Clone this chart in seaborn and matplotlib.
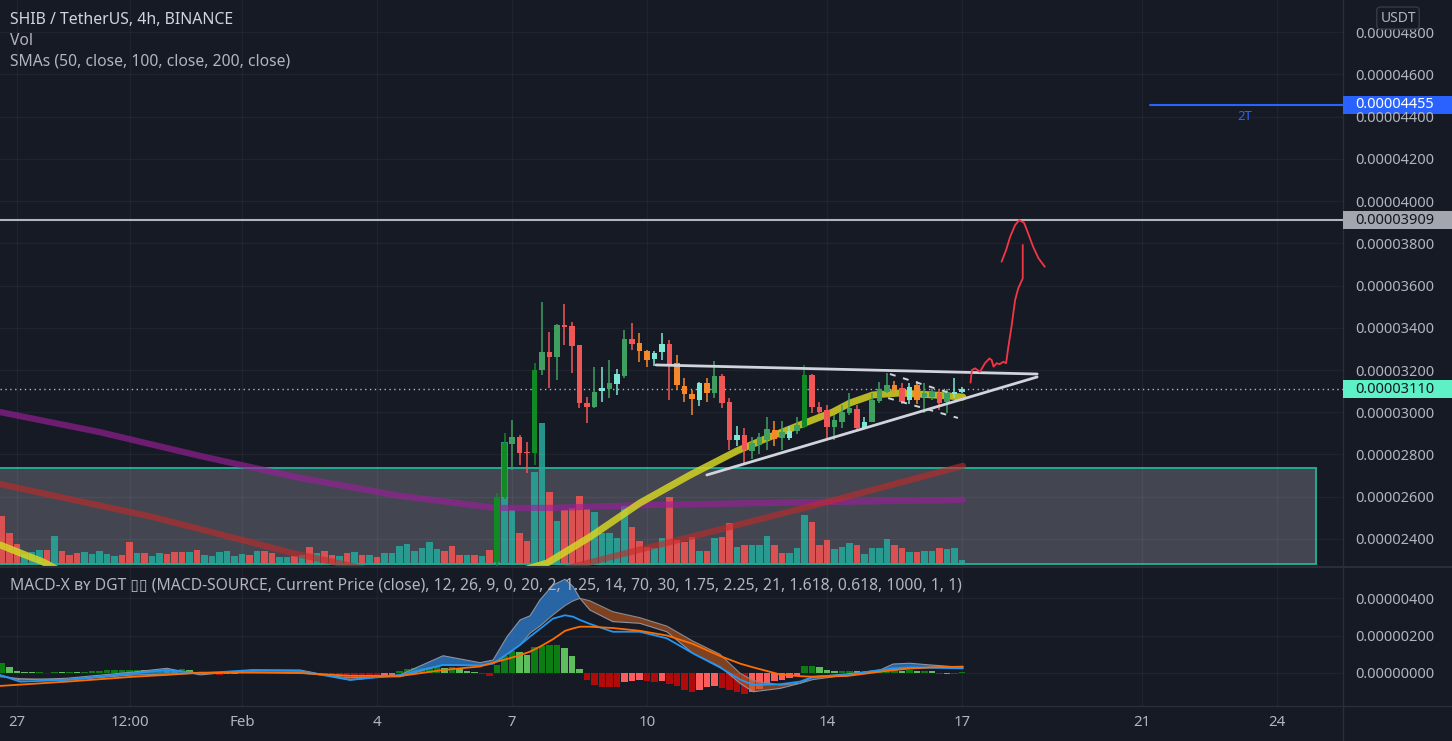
import numpy as np
import pandas as pd
import matplotlib
matplotlib.use('Agg')
import matplotlib.pyplot as plt
import matplotlib.transforms as mtransforms
from matplotlib.patches import Rectangle
from matplotlib.lines import Line2D
from matplotlib.ticker import FuncFormatter
import seaborn as sns

# ── Colours ────────────────────────────────────────────────────────
BG = '#161a25'
SEP = '#2a2e39'
TXT = '#b2b5be'

sns.set_theme(style='dark', rc={'axes.facecolor': BG, 'figure.facecolor': BG})
plt.rcParams['font.family'] = ['Noto Sans', 'DejaVu Sans']

# ── Data: prices in 1e-8 USDT, x in days since 27 Jan 00:00 ────────
T0 = pd.Timestamp('2022-01-27')
bar_times = pd.date_range('2022-01-26 16:00', periods=129, freq='4h')
bar_day = ((bar_times - T0) / pd.Timedelta('1D')).to_numpy()
candle_day = bar_day[66:]

tick_times = ['2022-01-27', '2022-01-29 12:00', '2022-02-01', '2022-02-04', '2022-02-07',
              '2022-02-10', '2022-02-14', '2022-02-17', '2022-02-21', '2022-02-24']
tick_labels = ['27', '12:00', 'Feb', '4', '7', '10', '14', '17', '21', '24']
tick_day = [(pd.Timestamp(t) - T0) / pd.Timedelta('1D') for t in tick_times]

c_open = [2290, 2600, 2850, 2883, 2810, 2807, 3200, 3285, 3260, 3415, 3408, 3318, 3044, 3025, 3100,
          3110, 3134, 3172, 3347, 3328, 3290, 3252, 3285, 3323, 3233, 3124, 3086, 3058, 3138, 3091,
          3172, 3049, 2869, 2892, 2817, 2845, 2869, 2916, 2878, 2878, 2911, 2930, 3176, 3025, 3011,
          2930, 2954, 2996, 3015, 2925, 2954, 3053, 3096, 3129, 3115, 3058, 3129, 3072, 3072, 3091,
          3049, 3086, 3096]
c_close = [2600, 2855, 2883, 2807, 2805, 3200, 3285, 3262, 3413, 3405, 3314, 3044, 3025, 3096, 3115,
           3138, 3181, 3347, 3323, 3290, 3247, 3280, 3323, 3228, 3129, 3086, 3063, 3138, 3091, 3172,
           3044, 2869, 2892, 2821, 2854, 2883, 2921, 2873, 2906, 2911, 2940, 3176, 3025, 3001, 2930,
           2963, 3001, 3020, 2925, 2954, 3058, 3110, 3129, 3105, 3049, 3120, 3058, 3091, 3096, 3044,
           3096, 3096, 3110]
c_high = [2620, 2902, 2963, 2890, 2860, 3233, 3522, 3380, 3420, 3512, 3427, 3320, 3072, 3214, 3214,
          3247, 3205, 3390, 3422, 3375, 3295, 3290, 3375, 3342, 3270, 3160, 3105, 3145, 3160, 3243,
          3180, 3067, 2935, 2925, 2883, 2900, 2977, 2958, 2959, 2935, 2977, 3224, 3180, 3050, 3034,
          2987, 3034, 3091, 3034, 2977, 3091, 3143, 3186, 3148, 3138, 3138, 3148, 3138, 3110, 3110,
          3110, 3162, 3120]
c_low = [2270, 2590, 2727, 2750, 2712, 2750, 3176, 3115, 3153, 3318, 3186, 3020, 2949, 3020, 3048,
         3067, 3082, 3160, 3295, 3238, 3214, 3218, 3247, 3058, 3105, 3050, 2987, 3030, 3050, 3067,
         3020, 2821, 2840, 2760, 2780, 2800, 2821, 2840, 2821, 2868, 2897, 2925, 2996, 2990, 2878,
         2869, 2925, 2987, 2920, 2920, 2954, 3044, 3091, 3091, 3039, 3039, 3039, 2996, 3060, 3011,
         2996, 3067, 3091]
# bar colouring of the indicator: G strong up, g up, t weak up, r down, o weak down
candle_kind = ['G', 'G', 'g', 'r', 'r', 'G', 'g', 'r', 'g', 'r', 'r', 'r', 'r', 'g', 't', 'g', 't',
               'g', 'r', 'o', 'o', 't', 't', 'r', 'o', 'o', 'o', 't', 'o', 'g', 'r', 'r', 't', 'r',
               'g', 'g', 'g', 'o', 'g', 't', 'g', 'G', 'r', 'r', 'r', 'g', 'g', 'g', 'r', 't', 'g',
               'g', 'g', 'o', 'r', 't', 'o', 'g', 'g', 'r', 'g', 't', 't']

volume = [48, 31, 20, 10, 12, 14, 14, 28, 13, 9, 11, 12, 10, 13, 10, 8, 9, 22, 11, 11,
          8, 11, 10, 12, 12, 12, 14, 9, 8, 12, 13, 8, 10, 9, 13, 13, 11, 7, 7, 8,
          9, 17, 11, 13, 9, 8, 11, 12, 9, 9, 7, 11, 11, 18, 20, 13, 16, 22, 15, 13,
          18, 9, 9, 9, 8, 14,
          67, 122, 54, 31, 23, 92, 141, 72, 43, 54, 56, 68, 55, 52, 31, 31, 26, 58, 37, 23,
          17, 16, 26, 67, 24, 22, 27, 13, 13, 26, 27, 41, 17, 19, 19, 19, 28, 19, 11, 11,
          16, 49, 42, 19, 24, 15, 17, 21, 19, 10, 16, 16, 25, 19, 16, 12, 12, 13, 13, 16,
          15, 16, 4]
vol_up = [0, 0, 0, 1, 1, 1, 0, 1, 0, 0, 0, 1, 1, 1, 1, 1, 0, 0, 1, 0,
          1, 1, 0, 0, 0, 1, 0, 1, 1, 1, 1, 1, 1, 0, 1, 0, 0, 1, 1, 0,
          1, 0, 1, 0, 0, 1, 0, 1, 0, 1, 0, 1, 1, 1, 1, 1, 1, 1, 1, 0,
          0, 0, 1, 0, 1, 0,
          1, 1, 1, 0, 0, 1, 1, 0, 1, 0, 0, 0, 0, 1, 1, 1, 1, 1, 0, 0,
          0, 1, 1, 0, 0, 0, 0, 1, 0, 1, 0, 0, 1, 0, 1, 1, 1, 0, 0, 1,
          1, 1, 0, 0, 0, 1, 1, 1, 0, 1, 1, 1, 1, 0, 0, 1, 0, 1, 1, 0,
          1, 1, 1]

sma50_day = [-0.38, 0.58, 1.84, 6.29, 9.62, 11.78, 12.73, 13.84, 14.96, 16.0, 16.67, 17.40,
             18.13, 18.51, 19.02, 19.62, 20.36, 21.02]
sma50 = [2372, 2291, 2150, 2180, 2150, 2286, 2409, 2570, 2703, 2817, 2878, 2940,
         3001, 3044, 3082, 3091, 3082, 3072]
sma100_day = [-0.38, 3.00, 6.13, 9.62, 12.07, 14.07, 14.96, 17.91, 21.02]
sma100 = [2660, 2505, 2333, 2170, 2253, 2362, 2409, 2570, 2746]
sma200_day = [-0.38, 1.84, 4.07, 6.29, 8.51, 10.62, 11.84, 14.07, 17.91, 21.02]
sma200 = [3001, 2906, 2793, 2689, 2604, 2547, 2547, 2561, 2575, 2585]

# drawings
zone_top, zone_bottom, zone_end = 2736, 2282, 28.87
tri_upper_day, tri_upper = [14.20, 22.67], [3224, 3181]
tri_lower_day, tri_lower = [15.33, 22.67], [2703, 3167]
flag_upper_day, flag_upper = [19.40, 20.73], [3181, 3091]
flag_lower_day, flag_lower = [19.36, 20.91], [3067, 2973]
path_rise_day = [21.19, 21.22, 21.29, 21.40, 21.51, 21.61, 21.66, 21.70, 21.77, 21.84, 21.92,
                 21.98, 22.03, 22.10, 22.18, 22.25, 22.35, 22.35]
path_rise = [3140, 3200, 3208, 3192, 3232, 3255, 3247, 3216, 3232, 3228, 3239,
             3232, 3310, 3405, 3531, 3587, 3634, 3792]
path_top_day = [21.88, 21.98, 22.07, 22.18, 22.27, 22.38, 22.47, 22.58, 22.70, 22.84]
path_top = [3713, 3768, 3831, 3886, 3910, 3897, 3847, 3784, 3729, 3689]
resistance = 3909
target, target_start = 4455, 25.18
last_price = 3110

# MACD-X (1e-8 units)
macd_day = [-0.38, 0.07, 1.11, 2.58, 3.33, 4.07, 5.24, 6.29, 7.40, 8.51, 9.47, 10.29, 10.58,
            10.89, 11.18, 11.40, 11.62, 11.91, 12.18, 12.36, 12.51, 12.73, 13.24, 13.84, 14.44,
            15.02, 15.62, 16.07, 16.36, 16.96, 17.40, 17.69, 18.44, 19.18, 19.47, 19.84, 20.29, 21.02]
band_a = [-11, -37, -28, 5, 25, -10, 16, 16, -37, -10, 92, 55, 69, 194, 283, 305, 389, 469, 500,
          460, 398, 336, 274, 265, 220, 105, 34, -55, -100, -82, -55, -20, -5, 16, 48, 52, 43, 30]
band_b = [-20, -30, -37, -11, -6, -2, 5, 0, -25, -20, 43, 40, 52, 100, 150, 212, 250, 310, 360,
          385, 398, 385, 327, 295, 250, 170, 100, -2, -40, -64, -55, -35, -11, 10, 20, 25, 30, 34]
macd_line = [-11, -46, -37, -2, 16, -2, 16, 11, -37, -11, 43, 40, 50, 100, 150, 194, 235, 290, 308,
             300, 283, 262, 220, 220, 185, 105, 30, -35, -64, -60, -46, -20, -11, 16, 25, 30, 28, 25]
signal_line = [-69, -62, -46, -20, -10, 2, 2, 0, -15, -16, 16, 35, 55, 75, 95, 114, 140, 180, 225,
               238, 247, 247, 240, 225, 200, 155, 91, 50, 30, -8, -17, -20, -16, 7, 15, 24, 30, 34]
macd_hist = [53, 32, 9, 4, 3, 3, 2, 4, 3, 6, 3,
             8, 11, 11, 14, 14, 16, 16, 16, 14, 16, 16, 14, 11, 21, 16,
             5, -3, -5, -8, -5, -3, 2, 3, 5, 5, 4, 3, 3, 2, 2,
             2, 1, -3, -5,
             -16, -27, -27, -27, -27, -27, -21, -11,
             11, 21, 27, 27, 32, 32, 27, 32, 21, 11, 5,
             -5, -16,
             44, 92, 119, 110, 98, 137, 146, 151, 151, 133, 92, 23,
             -36, -62, -75, -75, -75, -48, -41, -36, -41, -50, -44, -57, -71, -89, -103,
             -92, -75, -71, -80, -92, -103, -110, -103, -85, -62, -44, -36, -27, -14,
             36, 36, 32, 18, 12, 12, 12, 9, 4, 4, 9, 12, 18, 12, 18, 12, 12, 9, -5, -4, -4, 4]

# ── Layout (pixel geometry of the screenshot) ─────────────────────
W, H = 1452, 741
PW = 1343 / W
fig = plt.figure(figsize=(W / 100, H / 100), dpi=100)
fig.patch.set_facecolor(BG)
ax = fig.add_axes([0, 1 - 566 / H, PW, 566 / H])
axm = fig.add_axes([0, 1 - 706 / H, PW, 138 / H])
axv = ax.twinx()
axv.set_zorder(1)
ax.set_zorder(2)
ax.patch.set_visible(False)

XLIM = (-0.378, 29.467)
ax.set_xlim(*XLIM)
ax.set_ylim(2272, 4952)
axv.set_ylim(-2, 564)
axm.set_xlim(*XLIM)
axm.set_ylim(-176, 560)

price_fmt = FuncFormatter(lambda v, _: f'{v * 1e-8:.8f}')

# ── Volume + zone (behind) ────────────────────────────────────────
axv.add_patch(Rectangle((XLIM[0] - 1, zone_bottom), zone_end - XLIM[0] + 1, zone_top - zone_bottom,
                        transform=ax.transData, facecolor='#434651', edgecolor='#22ab94',
                        lw=1.4, zorder=0))
vcols = ['#26a69a' if u else '#ef5350' for u in vol_up]
axv.bar(bar_day, volume, width=0.145, color=vcols, alpha=0.88, lw=0, zorder=1)
axv.set_yticks([])
axv.tick_params(right=False, labelright=False)
for s in axv.spines.values():
    s.set_visible(False)

# ── Moving averages ───────────────────────────────────────────────
sns.lineplot(x=sma200_day, y=sma200, ax=ax, color='#9c1f9a', lw=4.5, alpha=0.65,
             sort=False, estimator=None, legend=False, zorder=1)
sns.lineplot(x=sma100_day, y=sma100, ax=ax, color='#c62828', lw=4.5, alpha=0.6,
             sort=False, estimator=None, legend=False, zorder=1)
sns.lineplot(x=sma50_day, y=sma50, ax=ax, color='#d4d424', lw=5, alpha=0.85,
             sort=False, estimator=None, legend=False, zorder=1)

# ── Candles ───────────────────────────────────────────────────────
CANDLE = {'G': '#0f8a25', 'g': '#3f9f60', 't': '#7de6d4', 'r': '#f05656', 'o': '#f5892a'}
c_open, c_close = np.array(c_open), np.array(c_close)
ccols = [CANDLE[k] for k in candle_kind]
ax.vlines(candle_day, c_low, c_high, colors=ccols, lw=1.1, zorder=4)
ax.bar(candle_day, np.maximum(np.abs(c_close - c_open), 5), bottom=np.minimum(c_open, c_close),
       width=0.12, color=ccols, lw=0, zorder=5)

# ── Drawings ──────────────────────────────────────────────────────
ax.axhline(resistance, color='#b2b5be', lw=1.5, zorder=3)
ax.axhline(last_price, color='#b2b5be', lw=1, ls=(0, (1, 2.5)), zorder=3)
ax.plot([target_start, XLIM[1]], [target, target], color='#2962ff', lw=1.5, zorder=3)
ax.text(27.29, 4402, '2T', color='#2962ff', fontsize=9.5, ha='center', va='center')
for d, p in [(tri_upper_day, tri_upper), (tri_lower_day, tri_lower)]:
    ax.plot(d, p, color='#d1d4dc', lw=2, zorder=6)
for d, p in [(flag_upper_day, flag_upper), (flag_lower_day, flag_lower)]:
    ax.plot(d, p, color='#d1d4dc', lw=1.4, ls=(0, (3, 4)), zorder=6)
ax.plot(path_rise_day, path_rise, color='#f23645', lw=1.3, zorder=6)
ax.plot(path_top_day, path_top, color='#f23645', lw=1.3, zorder=6)

# ── MACD-X pane ───────────────────────────────────────────────────
hist = np.array(macd_hist)
prev = np.concatenate([[0], hist[:-1]])
hcols = []
for h, p in zip(hist, prev):
    if h >= 0:
        hcols.append('#0b7d12' if h >= p else '#5cbf5c')
    else:
        hcols.append('#b00b0b' if h <= p else '#ff5c5c')
axm.bar(bar_day, hist, width=0.14, color=hcols, lw=0, zorder=1)
a, b = np.array(band_a), np.array(band_b)
axm.fill_between(macd_day, a, b, where=a >= b, interpolate=True, color='#2f7fd0', alpha=0.75,
                 lw=0, zorder=2)
axm.fill_between(macd_day, a, b, where=a < b, interpolate=True, color='#b9581f', alpha=0.65,
                 lw=0, zorder=2)
axm.plot(macd_day, a, color='#8a93a6', lw=0.8, zorder=3)
axm.plot(macd_day, b, color='#8a8a8a', lw=0.8, zorder=3)
sns.lineplot(x=macd_day, y=macd_line, ax=axm, color='#2196f3', lw=1.3,
             sort=False, estimator=None, legend=False, zorder=4)
sns.lineplot(x=macd_day, y=signal_line, ax=axm, color='#ff6d00', lw=1.3,
             sort=False, estimator=None, legend=False, zorder=4)

# ── Axes styling ──────────────────────────────────────────────────
for a_ in (ax, axm):
    a_.set_xticks(tick_day)
    a_.grid(True, color='#ffffff', alpha=0.045, lw=1)
    a_.yaxis.tick_right()
    a_.yaxis.set_major_formatter(price_fmt)
    a_.tick_params(axis='y', length=0, pad=8.5, labelsize=10.5, labelcolor=TXT)
    a_.set_xlabel('')
    a_.set_ylabel('')
    for s in a_.spines.values():
        s.set_visible(False)
ax.set_yticks(range(2400, 4801, 200))
ax.tick_params(axis='x', length=0, labelbottom=False)
axm.set_yticks([0, 200, 400])
axm.set_xticklabels(tick_labels)
axm.tick_params(axis='x', length=0, pad=6.5, labelsize=10.8, labelcolor=TXT)
axm.get_xticklabels()[2].set_fontweight('bold')

# separators
fig.add_artist(Line2D([PW, PW], [0, 1], color=SEP, lw=1))
fig.add_artist(Line2D([0, 1], [1 - 567 / H] * 2, color=SEP, lw=1.5))
fig.add_artist(Line2D([0, 1], [1 - 706 / H] * 2, color=SEP, lw=1))

# price labels on the right scale
blend = mtransforms.blended_transform_factory(fig.transFigure, ax.transData)
for val, fc, tc in [(target, '#2962ff', '#ffffff'), (resistance, '#a3a6af', '#131722'),
                    (last_price, '#5ef1c6', '#131722')]:
    fig.add_artist(Rectangle((PW, val - 42), 1 - PW, 84, transform=blend, facecolor=fc,
                             lw=0, zorder=2))
    fig.text(1355 / W, val, f'{val * 1e-8:.8f}', transform=blend, color=tc, fontsize=10.5,
             va='center', ha='left', zorder=3)
fig.text(1398 / W, 1 - 18 / H, 'USDT', color=TXT, fontsize=10, ha='center', va='center',
         bbox=dict(boxstyle='round,pad=0.25', fc=BG, ec='#363a45', lw=1), zorder=3)

# legends / titles
fig.text(10 / W, 1 - 20 / H, 'SHIB / TetherUS, 4h, BINANCE', color='#d1d4dc', fontsize=11.4,
         fontweight='bold', va='center')
fig.text(10 / W, 1 - 41 / H, 'Vol', color=TXT, fontsize=11.3, va='center')
fig.text(10 / W, 1 - 62 / H, 'SMAs (50, close, 100, close, 200, close)', color=TXT,
         fontsize=11.3, va='center')
fig.text(10 / W, 1 - 586 / H,
         'MACD-X ʙʏ DGT ▯▯ (MACD-SOURCE, Current Price (close), 12, 26, 9, 0, 20, 2, 1.25, 14, '
         '70, 30, 1.75, 2.25, 21, 1.618, 0.618, 1000, 1, 1)', color=TXT, fontsize=11.3,
         va='center')

fig.savefig('out.png', dpi=100, facecolor=BG)
